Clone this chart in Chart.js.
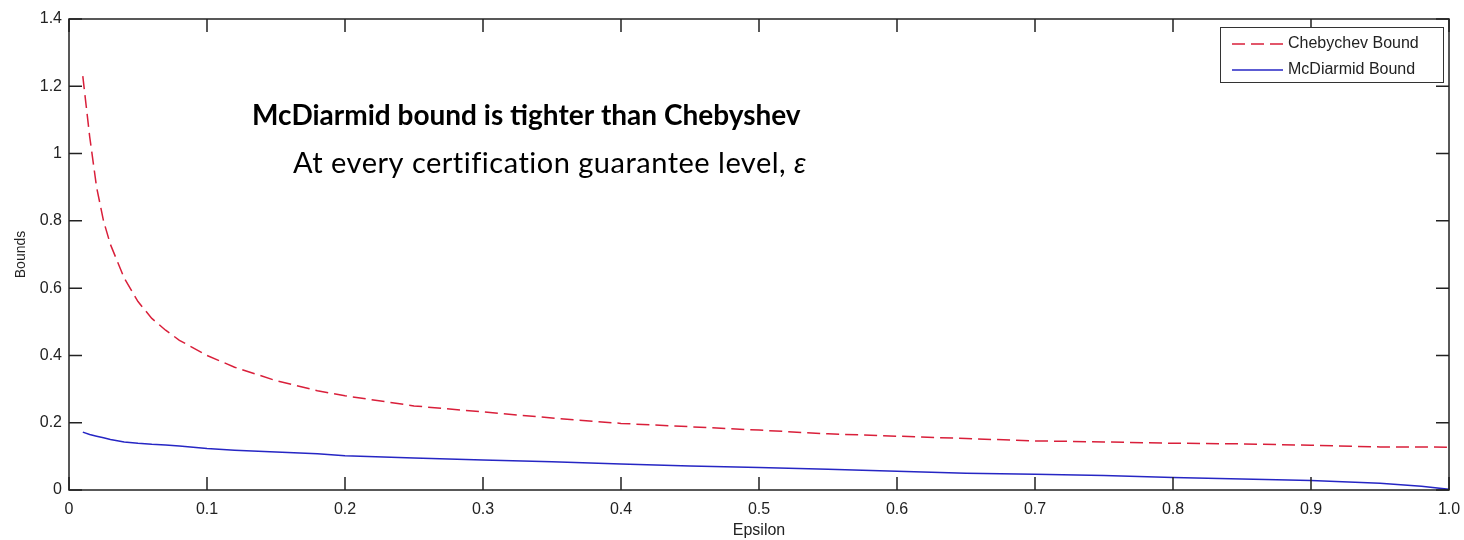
<!DOCTYPE html>
<html>
<head>
<meta charset="utf-8">
<script src="https://cdn.jsdelivr.net/npm/chart.js@4"></script>
<style>
  html, body { margin: 0; padding: 0; background: #fff; }
  #wrap { width: 1464px; height: 540px; }
</style>
</head>
<body>
<div id="wrap"><canvas id="boundsChart" width="1464" height="540"></canvas></div>
<script>
// values
const epsilon = [0.01, 0.015, 0.02, 0.025, 0.03, 0.04, 0.05, 0.06, 0.07, 0.08,
    0.1, 0.12, 0.15, 0.18, 0.2, 0.25, 0.3, 0.35, 0.4, 0.45, 0.5, 0.55, 0.6,
    0.65, 0.7, 0.75, 0.8, 0.85, 0.9, 0.95, 0.98, 1.0];
const chebychev = [1.23, 1.05, 0.90, 0.80, 0.73, 0.63, 0.56, 0.51, 0.475, 0.445,
    0.40, 0.365, 0.325, 0.295, 0.28, 0.25, 0.232, 0.214, 0.198, 0.188, 0.178, 0.167, 0.16,
    0.153, 0.146, 0.143, 0.139, 0.137, 0.133, 0.128, 0.128, 0.127];
const mcdiarmid = [0.172, 0.165, 0.16, 0.155, 0.15, 0.143, 0.139, 0.136, 0.134, 0.131,
    0.123, 0.118, 0.113, 0.108, 0.102, 0.095, 0.089, 0.084, 0.077, 0.071, 0.067, 0.062, 0.056,
    0.05, 0.047, 0.043, 0.037, 0.033, 0.028, 0.02, 0.011, 0.002];
const seriesNames = ['Chebychev Bound', 'McDiarmid Bound'];
const xTickLabels = ['0', '0.1', '0.2', '0.3', '0.4', '0.5', '0.6', '0.7', '0.8', '0.9', '1.0'];
const yTickLabels = ['0', '0.2', '0.4', '0.6', '0.8', '1', '1.2', '1.4'];
const noteTitle = 'McDiarmid bound is tighter than Chebyshev';
const noteText = 'At every certification guarantee level, ';
const noteSymbol = '\u03B5';

const axisFont = { family: '"Liberation Sans", Arial, sans-serif', size: 16 };
const axisColor = '#222';

// matlab style box with inward ticks on all four sides
const boxPlugin = {
    id: 'matlabBox',
    afterDraw(chart) {
        const ctx = chart.ctx;
        const a = chart.chartArea;
        const tl = 13;
        ctx.save();
        ctx.strokeStyle = axisColor;
        ctx.lineWidth = 1.5;
        ctx.strokeRect(a.left, a.top, a.right - a.left, a.bottom - a.top);
        ctx.beginPath();
        chart.scales.x.ticks.forEach(t => {
            const px = chart.scales.x.getPixelForValue(t.value);
            ctx.moveTo(px, a.bottom); ctx.lineTo(px, a.bottom - tl);
            ctx.moveTo(px, a.top); ctx.lineTo(px, a.top + tl);
        });
        chart.scales.y.ticks.forEach(t => {
            const py = chart.scales.y.getPixelForValue(t.value);
            ctx.moveTo(a.left, py); ctx.lineTo(a.left + tl, py);
            ctx.moveTo(a.right, py); ctx.lineTo(a.right - tl, py);
        });
        ctx.stroke();

        // legend box
        const lx = 1220, ly = 27, lw = 223, lh = 55;
        ctx.fillStyle = '#fff';
        ctx.fillRect(lx, ly, lw, lh);
        ctx.lineWidth = 1;
        ctx.strokeStyle = '#333';
        ctx.strokeRect(lx + 0.5, ly + 0.5, lw, lh);
        chart.data.datasets.forEach((ds, i) => {
            const y = ly + 17 + i * 26;
            ctx.beginPath();
            ctx.strokeStyle = ds.borderColor;
            ctx.lineWidth = 1.5;
            ctx.setLineDash(ds.borderDash || []);
            ctx.moveTo(lx + 12, y);
            ctx.lineTo(lx + 63, y);
            ctx.stroke();
            ctx.setLineDash([]);
            ctx.fillStyle = '#222';
            ctx.font = '16px "Liberation Sans", Arial, sans-serif';
            ctx.textBaseline = 'middle';
            ctx.textAlign = 'left';
            ctx.fillText(ds.label, lx + 68, y);
        });

        // annotation
        ctx.fillStyle = '#000';
        ctx.textBaseline = 'alphabetic';
        ctx.font = 'bold 28px Lato, "Open Sans", sans-serif';
        ctx.fillText(noteTitle, 252, 125);
        ctx.font = '29px Lato, "Open Sans", sans-serif';
        ctx.letterSpacing = '0.5px';
        ctx.fillText(noteText, 293, 173);
        const w = ctx.measureText(noteText).width;
        ctx.font = 'italic 29px Lato, "Open Sans", sans-serif';
        ctx.fillText(noteSymbol, 293 + w, 173);
        ctx.letterSpacing = '0px';
        ctx.restore();
    }
};

const ctx = document.getElementById('boundsChart').getContext('2d');
new Chart(ctx, {
    type: 'line',
    data: {
        datasets: [{
            label: seriesNames[0],
            data: epsilon.map((e, i) => ({ x: e, y: chebychev[i] })),
            borderColor: '#d91f3a',
            borderWidth: 1.5,
            borderDash: [13, 6],
            pointRadius: 0,
            tension: 0,
            fill: false
        }, {
            label: seriesNames[1],
            data: epsilon.map((e, i) => ({ x: e, y: mcdiarmid[i] })),
            borderColor: '#2626c4',
            borderWidth: 1.5,
            pointRadius: 0,
            tension: 0,
            fill: false
        }]
    },
    options: {
        responsive: false,
        animation: false,
        maintainAspectRatio: false,
        layout: {
            padding: { top: 19, right: 15, left: 0, bottom: 0 }
        },
        scales: {
            x: {
                type: 'linear',
                min: 0,
                max: 1,
                grid: { display: false, drawTicks: false },
                border: { display: false },
                ticks: {
                    stepSize: 0.1,
                    padding: 10,
                    color: axisColor,
                    font: axisFont,
                    maxRotation: 0,
                    autoSkip: false,
                    callback: (v, i) => xTickLabels[i]
                },
                title: {
                    display: true,
                    text: 'Epsilon',
                    color: axisColor,
                    font: { family: axisFont.family, size: 16 },
                    padding: { top: 2, bottom: 0 }
                },
                afterFit: scale => {
                    scale.height = 50;
                    scale.paddingLeft = 0;
                    scale.paddingRight = 0;
                }
            },
            y: {
                min: 0,
                max: 1.4,
                grid: { display: false, drawTicks: false },
                border: { display: false },
                ticks: {
                    stepSize: 0.2,
                    padding: 7,
                    color: axisColor,
                    font: axisFont,
                    callback: (v, i) => yTickLabels[i]
                },
                title: {
                    display: true,
                    text: 'Bounds',
                    color: axisColor,
                    font: { family: axisFont.family, size: 14 },
                    padding: { top: 13, bottom: 0 }
                },
                afterFit: scale => {
                    scale.width = 69;
                    scale.paddingTop = 0;
                    scale.paddingBottom = 0;
                }
            }
        },
        plugins: {
            legend: { display: false },
            tooltip: { enabled: false }
        }
    },
    plugins: [boxPlugin]
});
</script>
</body>
</html>
